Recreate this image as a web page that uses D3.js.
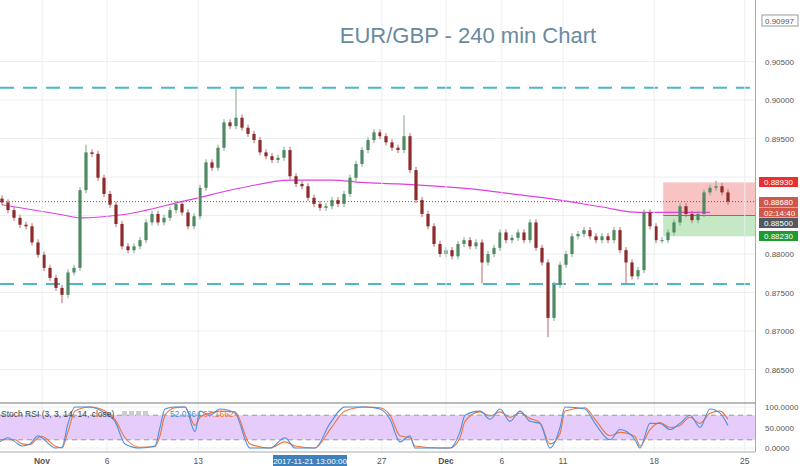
<!DOCTYPE html><html><head><meta charset="utf-8"><script src="https://cdn.jsdelivr.net/npm/d3@7"></script>
<style>body{margin:0;background:#fff}svg{font-family:Arial,"Liberation Sans",sans-serif}</style></head><body><svg id="c" width="800" height="466"></svg><script>
const closes=[0.8867,0.8857,0.8847,0.8838,0.8836,0.8815,0.8799,0.8782,0.8769,0.8756,0.8747,0.8776,0.8782,0.8883,0.8932,0.8930,0.8899,0.8878,0.8864,0.8839,0.8810,0.8805,0.8810,0.8818,0.8841,0.8852,0.8841,0.8847,0.8857,0.8865,0.8854,0.8836,0.8849,0.8886,0.8919,0.8912,0.8938,0.8971,0.8966,0.8977,0.8964,0.8956,0.8948,0.8932,0.8927,0.8922,0.8925,0.8935,0.8901,0.8891,0.8888,0.8873,0.8865,0.8860,0.8862,0.8870,0.8865,0.8878,0.8899,0.8917,0.8935,0.8948,0.8958,0.8953,0.8945,0.8938,0.8935,0.8953,0.8909,0.8870,0.8852,0.8836,0.8813,0.8800,0.8805,0.8797,0.8813,0.8818,0.8810,0.8815,0.8789,0.8800,0.8808,0.8828,0.8818,0.8821,0.8828,0.8818,0.8841,0.8808,0.8789,0.8717,0.8760,0.8786,0.8800,0.8823,0.8826,0.8831,0.8823,0.8818,0.8823,0.8818,0.8831,0.8805,0.8789,0.8771,0.8779,0.8854,0.8836,0.8818,0.8818,0.8828,0.8841,0.8862,0.8852,0.8844,0.8852,0.8880,0.8886,0.8888,0.8880,0.8868];
const firstOpen=0.8872;
const wick=0.0004;
const highOverrides=[[39,0.9016],[67,0.8980],[14,0.8942],[119,0.8895]];
const lowOverrides=[[10,0.8736],[80,0.8762],[91,0.8692],[104,0.8762]];
const maIdx=[0,10,13,20,31,40,48,55,60,66,80,86,93,100,106,118];
const maVal=[0.8864,0.8851,0.8847,0.8851,0.8870,0.8886,0.8896,0.8896,0.8893,0.8891,0.8883,0.8877,0.8870,0.8861,0.8854,0.8854];
const rsiX=[0,8,15,22,30,38,42,55,62,68,75,90,105,115,125,140,155,160,165,175,185,195,200,210,220,235,250,270,285,295,315,330,345,365,380,390,400,410,415,440,450,460,465,480,490,500,510,520,530,540,550,560,565,585,595,610,620,635,640,650,660,670,680,690,700,710,720,728];
const rsiK=[15,25,15,5,10,30,25,0,2,60,100,100,85,65,10,0,5,50,95,100,100,40,90,80,95,85,0,0,25,0,0,60,100,100,95,70,15,30,0,0,0,40,80,90,70,95,65,90,65,60,0,50,100,95,60,20,45,20,0,60,60,45,60,80,50,95,85,55];
const rsiD=[20,20,20,10,8,25,28,5,0,40,90,100,90,70,25,2,3,30,80,98,100,55,75,85,90,88,10,0,15,5,0,45,90,100,98,80,30,25,5,0,0,25,65,88,78,88,75,85,72,62,10,35,90,98,70,30,38,28,5,45,62,50,55,75,60,85,90,70];
const priceTicks=[0.865,0.870,0.875,0.880,0.885,0.890,0.895,0.900,0.905];
const dateLabels=["Nov","6","13","27","Dec","6","11","18","25"];
const dateIdx=[6.67,17.5,32.7,63.3,74,83.3,93.5,108.7,123.8];
const levelLines=[0.9016,0.8761];
const boxRed=[0.8893,0.8850], boxGreen=[0.8850,0.8823];
const axisTags=["0.88930","0.88680","02:14:40","0.88500","0.88230"];
const tagColors=["#e8312f","#d0574a","#d0574a","#505a60","#1f9a2e"];

const svg=d3.select("#c");
const W=755;
const x=d3.scaleLinear().domain([0,121]).range([2,728]);
const y=d3.scaleLinear().domain([0.865,0.900]).range([369.5,100]);
const ry=d3.scaleLinear().domain([0,100]).range([448,407]);
const main=svg.append("g");
priceTicks.forEach(t=>main.append("line").attr("x1",0).attr("x2",W).attr("y1",y(t)).attr("y2",y(t)).attr("stroke","#eceef0"));
dateIdx.forEach(d=>svg.append("line").attr("x1",x(d)).attr("x2",x(d)).attr("y1",0).attr("y2",452).attr("stroke","#eceef0"));
[0,50,100].forEach(v=>svg.append("line").attr("x1",0).attr("x2",W).attr("y1",ry(v)).attr("y2",ry(v)).attr("stroke","#eceef0"));
const bx0=x(110.2);
main.append("rect").attr("x",bx0).attr("width",W-bx0).attr("y",y(boxRed[0])).attr("height",y(boxRed[1])-y(boxRed[0])).attr("fill","#f7b8b8").attr("opacity",0.85);
main.append("rect").attr("x",bx0).attr("width",W-bx0).attr("y",y(boxGreen[0])).attr("height",y(boxGreen[1])-y(boxGreen[0])).attr("fill","#bfe6bf").attr("opacity",0.9);
main.append("line").attr("x1",bx0).attr("x2",W).attr("y1",y(0.8850)).attr("y2",y(0.8850)).attr("stroke","#777").attr("stroke-width",1);
levelLines.forEach(l=>main.append("line").attr("x1",0).attr("x2",W).attr("y1",y(l)).attr("y2",y(l)).attr("stroke","#4bb8c8").attr("stroke-width",2).attr("stroke-dasharray","14,9"));
main.append("line").attr("x1",0).attr("x2",W).attr("y1",y(0.8868)).attr("y2",y(0.8868)).attr("stroke","#c0392b").attr("stroke-dasharray","1,2");
main.append("path").datum(maIdx.map((d,i)=>[d,maVal[i]])).attr("fill","none").attr("stroke","#e040e0").attr("stroke-width",1.2)
 .attr("d",d3.line().x(d=>x(d[0])).y(d=>y(d[1])).curve(d3.curveMonotoneX));
const hiO=new Map(highOverrides), loO=new Map(lowOverrides);
closes.forEach((c,i)=>{const o=i?closes[i-1]:firstOpen;const up=c>=o;
 const hi=hiO.has(i)?hiO.get(i):Math.max(o,c)+wick, lo=loO.has(i)?loO.get(i):Math.min(o,c)-wick;
 const col=up?"#4f8a63":"#8e2a2a";
 main.append("line").attr("x1",x(i)).attr("x2",x(i)).attr("y1",y(hi)).attr("y2",y(lo)).attr("stroke",up?"#7aa88a":"#b56b6b");
 const t=y(Math.max(o,c)),b=y(Math.min(o,c));
 main.append("rect").attr("x",x(i)-1.6).attr("width",3.2).attr("y",t).attr("height",Math.max(1,b-t)).attr("fill",col);});
svg.append("text").attr("x",468).attr("y",43).attr("text-anchor","middle").attr("font-size",22).attr("fill","#6a8aa0").text("EUR/GBP - 240 min Chart");
svg.append("line").attr("x1",0).attr("x2",W).attr("y1",403).attr("y2",403).attr("stroke","#777");
svg.append("rect").attr("x",0).attr("width",W).attr("y",ry(80)).attr("height",ry(20)-ry(80)).attr("fill","#e6ccfa");
[80,20].forEach(v=>svg.append("line").attr("x1",0).attr("x2",W).attr("y1",ry(v)).attr("y2",ry(v)).attr("stroke","#999").attr("stroke-dasharray","5,4"));
const rl=d3.line().x((d,i)=>rsiX[i]).y(d=>ry(d)).curve(d3.curveMonotoneX);
svg.append("path").datum(rsiD).attr("d",rl).attr("fill","none").attr("stroke","#f0743a").attr("stroke-width",1.1);
svg.append("path").datum(rsiK).attr("d",rl).attr("fill","none").attr("stroke","#4a90e2").attr("stroke-width",1.1);
svg.append("text").attr("x",1).attr("y",417).attr("font-size",8.5).attr("fill","#444").text("Stoch RSI (3, 3, 14, 14, close)");
[0,1,2,3].forEach(k=>svg.append("rect").attr("x",122+k*7).attr("y",411).attr("width",5).attr("height",5).attr("fill","#ccc"));
svg.append("text").attr("x",170).attr("y",417).attr("font-size",8.5).attr("fill","#4a90e2").text("52.0364");
svg.append("text").attr("x",203).attr("y",417).attr("font-size",8.5).attr("fill","#f0743a").text("67.1662");
svg.append("line").attr("x1",0).attr("x2",W).attr("y1",452).attr("y2",452).attr("stroke","#aaa");
svg.append("line").attr("x1",W+.5).attr("x2",W+.5).attr("y1",0).attr("y2",452).attr("stroke","#aaa");
priceTicks.forEach(t=>{if(t===0.890||t===0.885)return;svg.append("text").attr("x",765).attr("y",y(t)+3).attr("font-size",8).attr("fill","#555").text(t.toFixed(5));});
["0.0000","50.0000","100.0000"].forEach((s,i)=>svg.append("text").attr("x",765).attr("y",ry([0,50,100][i])+3).attr("font-size",8).attr("fill","#555").text(s));
svg.append("rect").attr("x",762).attr("y",15).attr("width",36).attr("height",11).attr("fill","#fff").attr("stroke","#999");
svg.append("text").attr("x",765).attr("y",23.5).attr("font-size",8).attr("fill","#555").text("0.90997");
const tagY=d3.scalePoint().domain(axisTags).range([182,236]);
const tagYs=[182,202,212.5,223,236];
axisTags.forEach((s,i)=>{svg.append("rect").attr("x",759).attr("y",tagYs[i]-5).attr("width",39).attr("height",10).attr("fill",tagColors[i]);
 svg.append("text").attr("x",764).attr("y",tagYs[i]+3).attr("font-size",8).attr("fill","#fff").text(s);});
dateLabels.forEach((l,i)=>svg.append("text").attr("x",x(dateIdx[i])).attr("y",464).attr("text-anchor","middle").attr("font-size",8.5).attr("font-weight",(l==="Nov"||l==="Dec")?"bold":"normal").attr("fill","#555").text(l));
svg.append("rect").attr("x",273).attr("y",455).attr("width",74).attr("height",11).attr("fill","#3f7fba");
svg.append("text").attr("x",310).attr("y",463.5).attr("text-anchor","middle").attr("font-size",8).attr("fill","#fff").text("2017-11-21 13:00:00");
</script></body></html>
